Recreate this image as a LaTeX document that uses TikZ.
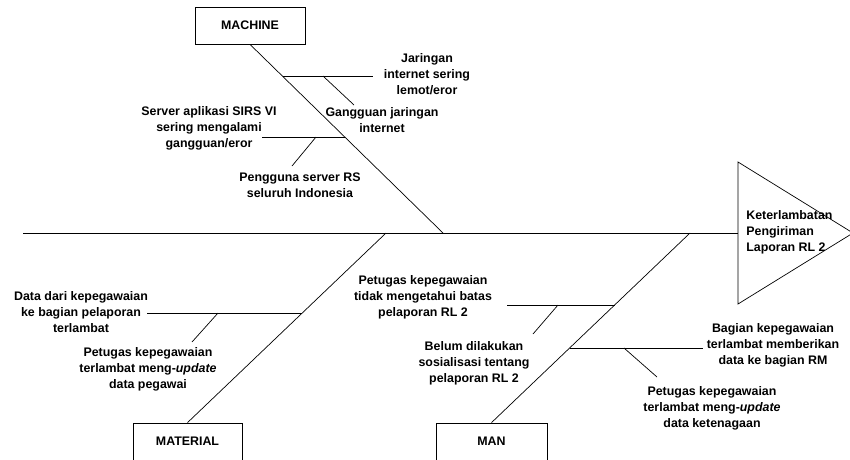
\documentclass[tikz,border=0pt]{standalone}
\usepackage{fontspec}
\setmainfont{Liberation Sans}
\begin{document}
\begin{tikzpicture}[x=1pt,y=-1pt,line width=0.7pt,
  lbl/.style={font=\bfseries\fontsize{12.4}{16}\selectfont,align=center,inner sep=0pt},
  catbox/.style={draw,line width=0.8pt,minimum width=110pt,minimum height=37pt,inner sep=0pt,font=\bfseries\fontsize{12.4}{15}\selectfont}]
\useasboundingbox (0,0) rectangle (850,459);
\clip (0,0) rectangle (850,459);
% effect head
\coordinate (htop) at (738,162);
\coordinate (hbot) at (738,304);
\coordinate (htip) at (853,233);
\coordinate (hmid) at (738,233);
\coordinate (tail) at (23,233);
\draw (htop) -- (htip) -- (hbot) -- cycle;
\node[lbl,align=left,anchor=west] (effect) at (746,232) {Keterlambatan\\Pengiriman\\Laporan RL 2};
\draw (tail) -- (hmid);
% category boxes
\node[catbox] (machine) at (250,25.5) {MACHINE};
\node[catbox,minimum width=109pt] (material) at (187.5,441.5) {MATERIAL};
\node[catbox,minimum width=111pt] (man) at (491.5,441.5) {MAN};
\coordinate (sm) at (443,233);
\coordinate (sa) at (386,233);
\coordinate (sn) at (690,233);
\draw (machine.south) -- (sm);
\draw (material.north) -- (sa);
\draw (man.north) -- (sn);
% machine causes
\coordinate (m1a) at (282.7,76);  \coordinate (m1b) at (373,76);
\coordinate (m1c) at (323,76);    \coordinate (m1d) at (354,105);
\coordinate (m2a) at (345,137);   \coordinate (m2b) at (262,137);
\coordinate (m2c) at (316,137);   \coordinate (m2d) at (292,166);
\draw (m1a) -- (m1b);
\draw (m1c) -- (m1d);
\draw (m2a) -- (m2b);
\draw (m2c) -- (m2d);
\node[lbl] (t1) at (427,74) {Jaringan\\internet sering\\lemot/eror};
\node[lbl] (t2) at (382,120.5) {Gangguan jaringan\\internet};
\node[lbl] (t3) at (209,128) {Server aplikasi SIRS VI\\sering mengalami\\gangguan/eror};
\node[lbl] (t4) at (300,185) {Pengguna server RS\\seluruh Indonesia};
% material causes
\coordinate (a1a) at (302.4,313); \coordinate (a1b) at (147,313);
\coordinate (a1c) at (218,313);   \coordinate (a1d) at (192,342);
\draw (a1a) -- (a1b);
\draw (a1c) -- (a1d);
\node[lbl] (t5) at (81,312) {Data dari kepegawaian\\ke bagian pelaporan\\terlambat};
\node[lbl] (t6) at (148,369) {Petugas kepegawaian\\terlambat meng-\textit{update}\\data pegawai};
% man causes
\coordinate (n1a) at (614.8,305); \coordinate (n1b) at (507,305);
\coordinate (n1c) at (558,305);   \coordinate (n1d) at (533,334);
\coordinate (n2a) at (569.9,348); \coordinate (n2b) at (703,348);
\coordinate (n2c) at (624,348);   \coordinate (n2d) at (657,377);
\draw (n1a) -- (n1b);
\draw (n1c) -- (n1d);
\draw (n2a) -- (n2b);
\draw (n2c) -- (n2d);
\node[lbl] (t7) at (423,297) {Petugas kepegawaian\\tidak mengetahui batas\\pelaporan RL 2};
\node[lbl] (t8) at (474,363) {Belum dilakukan\\sosialisasi tentang\\pelaporan RL 2};
\node[lbl] (t9) at (773,345) {Bagian kepegawaian\\terlambat memberikan\\data ke bagian RM};
\node[lbl] (t10) at (712,408) {Petugas kepegawaian\\terlambat meng-\textit{update}\\data ketenagaan};
\end{tikzpicture}
\end{document}
